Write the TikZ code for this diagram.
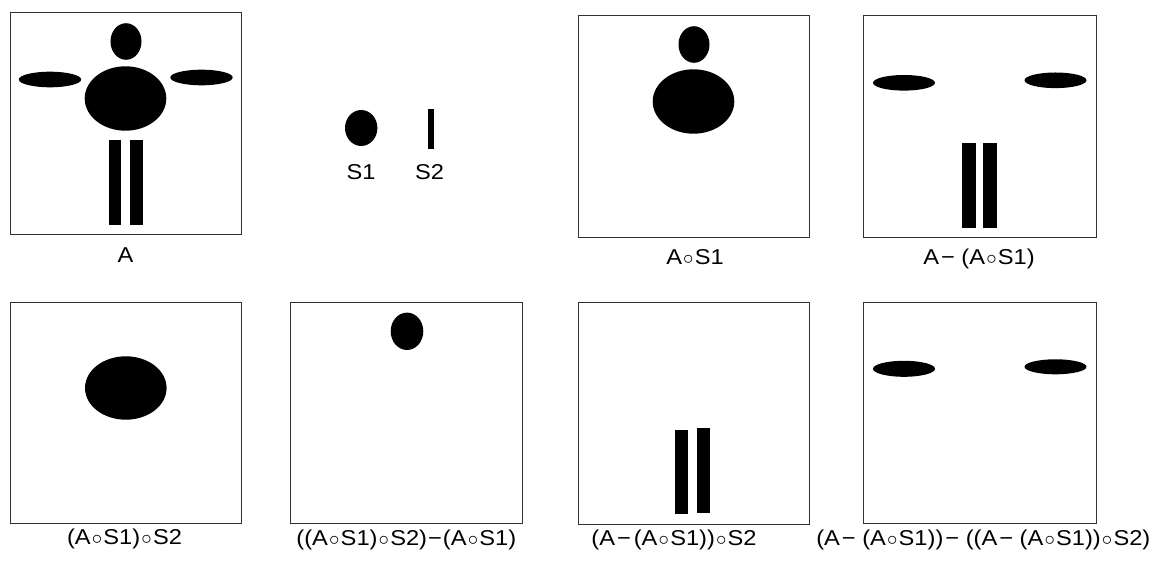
\documentclass[tikz,border=0pt]{standalone}
\usepackage{fontspec}
\setmainfont[FakeStretch=1.1]{Liberation Sans}
\newcommand{\ringop}{\kern1.2pt$\circ$\kern1.2pt}
\newcommand{\mns}{−}
\begin{document}
\begin{tikzpicture}[x=1pt,y=-1pt,
  frame/.style={draw=black!80,line width=0.9pt,fill=white},
  blob/.style={fill=black},
  lab/.style={anchor=base,inner sep=0pt,font=\fontsize{21.5}{24}\selectfont}]
\useasboundingbox[fill=white] (0,0) rectangle (1168,561);
% ---------- Panel A ----------
\begin{scope}[shift={(10,12)}]
  \draw[frame] (0,0) rectangle (231,222);
  \fill[blob] (116,29.5) ellipse [x radius=15.5,y radius=18.3];
  \fill[blob] (115.5,86.5) ellipse [x radius=40.8,y radius=32.2];
  \fill[blob] (40,67.5) ellipse [x radius=31.2,y radius=7.8];
  \fill[blob] (191.5,65.5) ellipse [x radius=31.2,y radius=7.8];
  \fill[blob] (98.5,128) rectangle (111,213);
  \fill[blob] (119.5,128) rectangle (133,213);
\end{scope}
\node[lab] (labA) at (125.5,262.7) {A};
% ---------- structuring elements ----------
\fill[blob] (361.2,128) ellipse [x radius=16.2,y radius=18];
\fill[blob] (428.3,109) rectangle (434,148.7);
\node[lab] (labS1) at (361,180) {S1};
\node[lab] (labS2) at (429.5,180) {S2};
% ---------- A o S1 ----------
\begin{scope}[shift={(578,15)}]
  \draw[frame] (0,0) rectangle (231,222);
  \fill[blob] (116,29.5) ellipse [x radius=15.5,y radius=18.3];
  \fill[blob] (115.5,86.5) ellipse [x radius=40.8,y radius=32.2];
\end{scope}
\node[lab] (labB) at (695,265) {A\ringop S1};
% ---------- A - (A o S1) ----------
\begin{scope}[shift={(863,15)}]
  \draw[frame] (0,0) rectangle (233,222);
  \fill[blob] (41,67.8) ellipse [x radius=31,y radius=7.8];
  \fill[blob] (192.5,65.3) ellipse [x radius=31,y radius=7.8];
  \fill[blob] (99.3,127.7) rectangle (113,212.7);
  \fill[blob] (120.3,127.7) rectangle (133.7,212.7);
\end{scope}
\node[lab] (labC) at (979,265) {A\kern2pt\mns\ (A\ringop S1)};
% ---------- (A o S1) o S2 ----------
\begin{scope}[shift={(10,302)}]
  \draw[frame] (0,0) rectangle (231.5,221.5);
  \fill[blob] (115.8,86) ellipse [x radius=40.8,y radius=31.7];
\end{scope}
\node[lab] (labD) at (124.5,544.5) {(A\ringop S1)\ringop S2};
% ---------- ((A o S1) o S2) - (A o S1) ----------
\begin{scope}[shift={(290,302)}]
  \draw[frame] (0,0) rectangle (232,221.5);
  \fill[blob] (117,29.3) ellipse [x radius=16.3,y radius=18.7];
\end{scope}
\node[lab] (labE) at (406.3,545) {((A\ringop S1)\ringop S2)\kern1pt\mns\kern1pt(A\ringop S1)};
% ---------- (A - (A o S1)) o S2 ----------
\begin{scope}[shift={(578,302)}]
  \draw[frame] (0,0) rectangle (231,222);
  \fill[blob] (97,128) rectangle (110.3,212.3);
  \fill[blob] (119,126.3) rectangle (132.3,211);
\end{scope}
\node[lab] (labF) at (674,545) {(A\kern2pt\mns\kern3pt(A\ringop S1))\ringop S2};
% ---------- (A - (A o S1)) - ((A - (A o S1)) o S2) ----------
\begin{scope}[shift={(863,302)}]
  \draw[frame] (0,0) rectangle (233,221.6);
  \fill[blob] (41,66.8) ellipse [x radius=31,y radius=8];
  \fill[blob] (192.5,64.8) ellipse [x radius=31,y radius=7.5];
\end{scope}
\node[lab] (labG) at (983.3,545) {(A\kern2pt\mns\ (A\ringop S1))\kern2pt\mns\ ((A\kern2pt\mns\ (A\ringop S1))\ringop S2)};
\end{tikzpicture}
\end{document}
